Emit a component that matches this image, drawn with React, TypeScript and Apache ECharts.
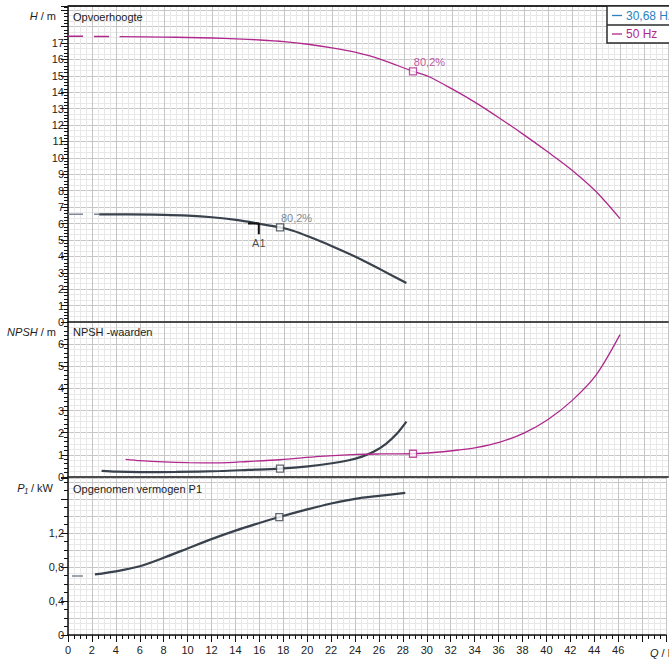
import React, { useEffect, useRef } from "react";
import * as echarts from "echarts";

// Flow axis (l/s)
const FLOW_MAX = 50;
const FLOW_STEP = 2;

// Head H (m) — 30,68 Hz and 50 Hz
const headLowExtrap: [number, number][] = [[0, 6.56], [2.6, 6.56]];
const headLow: [number, number][] = [
  [2.6, 6.56], [5, 6.56], [8, 6.53], [10, 6.48], [12, 6.38], [14, 6.22],
  [16, 5.98], [17.67, 5.76], [18.75, 5.56], [20, 5.22], [22, 4.62],
  [24, 3.96], [26, 3.22], [28.2, 2.37],
];
const headHighExtrap: [number, number][] = [[0, 17.41], [4.3, 17.38]];
const headHigh: [number, number][] = [
  [4.3, 17.38], [8, 17.36], [10, 17.33], [12, 17.3], [14, 17.25], [16, 17.18],
  [18, 17.08], [20, 16.92], [22, 16.7], [24, 16.42], [26, 16.02], [28.75, 15.27],
  [30, 14.97], [32, 14.2], [34, 13.35], [36, 12.4], [38, 11.4], [40, 10.35],
  [42, 9.25], [44, 7.95], [46, 6.3],
];

// NPSH (m)
const npshLow: [number, number][] = [
  [2.8, 0.28], [4, 0.24], [6, 0.22], [9, 0.23], [12.7, 0.27], [15, 0.32],
  [17.67, 0.38], [20, 0.48], [22, 0.62], [23.5, 0.77], [24.5, 0.92],
  [25.5, 1.15], [26.5, 1.5], [27.4, 1.95], [28.2, 2.5],
];
const npshHigh: [number, number][] = [
  [4.8, 0.8], [6, 0.74], [8, 0.68], [10, 0.65], [12.7, 0.64], [15, 0.7],
  [17.67, 0.78], [21, 0.93], [24.1, 1.02], [26, 1.04], [28.75, 1.05],
  [31, 1.13], [32.5, 1.22], [34, 1.33], [36, 1.58], [38, 1.98], [40, 2.6],
  [42, 3.45], [44, 4.6], [46, 6.43],
];

// Power input P1 (kW)
const powerLowExtrap: [number, number][] = [[0.33, 0.694], [2.25, 0.694]];
const powerLow: [number, number][] = [
  [2.25, 0.714], [4, 0.75], [6, 0.81], [8, 0.91], [10, 1.02], [12, 1.13],
  [14, 1.23], [16, 1.32], [17.67, 1.39], [20, 1.48], [22, 1.55],
  [24, 1.605], [26, 1.64], [28.2, 1.674],
];

// Best-efficiency points and duty point
const bepLow: [number, number] = [17.67, 5.76];
const bepHigh: [number, number] = [28.75, 15.27];
const bepNpshLow: [number, number] = [17.67, 0.38];
const bepNpshHigh: [number, number] = [28.75, 1.05];
const bepPowerLow: [number, number] = [17.67, 1.39];
const bepLabel = "80,2%";
const dutyHook: [number, number][] = [[15.0, 6.0], [15.9, 6.0], [15.9, 5.34]];
const dutyName = "A1";

const legendItems = ["30,68 Hz", "50 Hz"];

const FONT = "'Liberation Sans', Arial, sans-serif";
const TEXT = "#1c1c1c";
const LOW = "#39424c";
const LOW_EXT = "#7d8894";
const HIGH = "#b0288c";
const BLUE = "#2a82c0";
const GRID_MID = "#c6c6c6";
const GRID_LIGHT = "#e8e8e8";

const W = 669;
const H = 659;
const LEFT = 68;

const grids = [
  { left: LEFT, top: 6, width: 600, height: 316 },
  { left: LEFT, top: 322, width: 600, height: 155 },
  { left: LEFT, top: 478, width: 600, height: 157 },
];

function xAxisFor(gi: number, showLabels: boolean) {
  return {
    type: "value",
    gridIndex: gi,
    min: 0,
    max: FLOW_MAX,
    interval: FLOW_STEP,
    position: "bottom",
    axisLine: {
      show: true,
      onZero: false,
      lineStyle: showLabels ? { color: "#111", width: 1.5 } : { color: "#4a4a4a", width: 2 },
    },
    axisTick: { show: showLabels, length: 7, lineStyle: { color: "#111" } },
    minorTick: { show: showLabels, splitNumber: 4, length: 4, lineStyle: { color: "#111" } },
    axisLabel: {
      show: showLabels,
      margin: 9,
      color: TEXT,
      fontSize: 11,
      fontFamily: FONT,
      formatter: (v: number) => (v >= 48 ? "" : String(v)),
    },
    splitLine: { show: true, lineStyle: { color: GRID_MID, width: 1 } },
    minorSplitLine: { show: true, lineStyle: { color: GRID_LIGHT, width: 1 } },
  };
}

// Visible left axis: line, ticks and labels
function yAxisMain(gi: number, max: number, interval: number, minor: number, fmt: (v: number) => string) {
  return {
    type: "value",
    gridIndex: gi,
    min: 0,
    max,
    interval,
    position: "left",
    z: 3,
    axisLine: { show: true, onZero: false, lineStyle: { color: "#111", width: 1.5 } },
    axisTick: { show: true, length: 7, lineStyle: { color: "#111" } },
    minorTick: { show: true, splitNumber: minor, length: 4, lineStyle: { color: "#111" } },
    axisLabel: { margin: 4, color: TEXT, fontSize: 11, fontFamily: FONT, formatter: fmt },
    splitLine: { show: false },
    minorSplitLine: { show: false },
  };
}

// Background grid lines for a panel
function yAxisGrid(gi: number, max: number, interval: number, minor: number) {
  return {
    type: "value",
    gridIndex: gi,
    min: 0,
    max,
    interval,
    position: "left",
    z: 0,
    axisLine: { show: false },
    axisTick: { show: false },
    minorTick: { show: false, splitNumber: minor },
    axisLabel: { show: false },
    splitLine: { show: true, lineStyle: { color: GRID_MID, width: 1 } },
    minorSplitLine: { show: true, lineStyle: { color: GRID_LIGHT, width: 1 } },
  };
}

function curve(data: [number, number][], xi: number, yi: number, color: string, width: number, dash?: number[]) {
  return {
    type: "line",
    xAxisIndex: xi,
    yAxisIndex: yi,
    data,
    smooth: dash ? false : 0.3,
    showSymbol: false,
    symbol: "none",
    silent: true,
    z: 3,
    lineStyle: { color, width, type: dash ? dash : "solid" },
  };
}

function marker(point: [number, number], xi: number, yi: number, color: string, label?: string, labelColor?: string) {
  return {
    type: "scatter",
    xAxisIndex: xi,
    yAxisIndex: yi,
    data: [point],
    symbol: "rect",
    symbolSize: 7,
    silent: true,
    z: 5,
    itemStyle: { color: "#fff", borderColor: color, borderWidth: 1.3 },
    label: label
      ? {
          show: true,
          formatter: label,
          position: [5, -5],
          align: "left",
          verticalAlign: "middle",
          color: labelColor || color,
          fontSize: 11,
          fontFamily: FONT,
        }
      : { show: false },
  };
}

const decimalComma = (v: number) => (v === 0 ? "0" : v.toFixed(1).replace(".", ","));

const italicRich = { i: { fontStyle: "italic", font: `italic 11px ${FONT}`, fill: TEXT } };

export default function App() {
  const ref = useRef<HTMLDivElement>(null);

  useEffect(() => {
    document.body.style.margin = "0";
    if (!ref.current) return;
    const chart = echarts.init(ref.current, null, { renderer: "svg" });

    const option = {
      animation: false,
      backgroundColor: "#ffffff",
      textStyle: { fontFamily: FONT },
      grid: grids.map((g) => ({ ...g, containLabel: false })),
      xAxis: [xAxisFor(0, false), xAxisFor(1, false), xAxisFor(2, true)],
      yAxis: [
        yAxisMain(0, 19.25, 1, 5, (v: number) => (v > 17.5 ? "" : String(v))),
        yAxisGrid(0, 19.25, 1, 3),
        yAxisMain(1, 7, 1, 5, (v: number) => (v > 6.5 ? "" : String(v))),
        yAxisGrid(1, 7, 1, 4),
        yAxisMain(2, 1.85, 0.4, 4, (v: number) => (v > 1.3 ? "" : decimalComma(v))),
        yAxisGrid(2, 1.85, 0.2, 3),
      ],
      series: [
        // head
        curve(headLowExtrap, 0, 0, LOW_EXT, 1.5, [15, 11]),
        curve(headLow, 0, 0, LOW, 2.2),
        curve(headHighExtrap, 0, 0, HIGH, 1.5, [15, 11]),
        curve(headHigh, 0, 0, HIGH, 1.3),
        {
          type: "line",
          xAxisIndex: 0,
          yAxisIndex: 0,
          data: dutyHook,
          showSymbol: false,
          symbol: "none",
          silent: true,
          z: 4,
          lineStyle: { color: "#111", width: 2 },
        },
        {
          type: "scatter",
          xAxisIndex: 0,
          yAxisIndex: 0,
          data: [dutyHook[dutyHook.length - 1]],
          symbolSize: 0,
          silent: true,
          z: 4,
          label: {
            show: true,
            formatter: dutyName,
            position: "bottom",
            distance: 3,
            color: TEXT,
            fontSize: 11,
            fontFamily: FONT,
          },
        },
        marker(bepLow, 0, 0, LOW, bepLabel, "#5f6a75"),
        marker(bepHigh, 0, 0, HIGH, bepLabel, HIGH),
        // NPSH
        curve(npshLow, 1, 2, LOW, 2.2),
        curve(npshHigh, 1, 2, HIGH, 1.3),
        marker(bepNpshLow, 1, 2, LOW),
        marker(bepNpshHigh, 1, 2, HIGH),
        // power
        curve(powerLowExtrap, 2, 4, LOW_EXT, 1.5, [11, 12]),
        curve(powerLow, 2, 4, LOW, 2.2),
        marker(bepPowerLow, 2, 4, LOW),
      ],
      graphic: [
        {
          type: "line",
          z: 10,
          shape: { x1: LEFT, y1: 6, x2: W, y2: 6 },
          style: { stroke: "#2b2b2b", lineWidth: 2 },
        },
        // panel titles
        {
          type: "text",
          x: 73,
          y: 17,
          z: 10,
          style: { text: "Opvoerhoogte", font: `11px ${FONT}`, fill: TEXT, verticalAlign: "middle" },
        },
        {
          type: "text",
          x: 73,
          y: 332,
          z: 10,
          style: { text: "NPSH -waarden", font: `11px ${FONT}`, fill: TEXT, verticalAlign: "middle" },
        },
        {
          type: "text",
          x: 73,
          y: 489,
          z: 10,
          style: { text: "Opgenomen vermogen P1", font: `11px ${FONT}`, fill: TEXT, verticalAlign: "middle" },
        },
        // axis names
        {
          type: "text",
          x: 56,
          y: 16,
          z: 10,
          style: {
            text: "{i|H} / m",
            font: `11px ${FONT}`,
            fill: TEXT,
            align: "right",
            verticalAlign: "middle",
            rich: italicRich,
          },
        },
        {
          type: "text",
          x: 56,
          y: 332,
          z: 10,
          style: {
            text: "{i|NPSH} / m",
            font: `11px ${FONT}`,
            fill: TEXT,
            align: "right",
            verticalAlign: "middle",
            rich: italicRich,
          },
        },
        {
          type: "text",
          x: 53,
          y: 488,
          z: 10,
          style: {
            text: "{i|P₁} / kW",
            font: `11px ${FONT}`,
            fill: TEXT,
            align: "right",
            verticalAlign: "middle",
            rich: italicRich,
          },
        },
        {
          type: "text",
          x: 650,
          y: 653,
          z: 10,
          style: {
            text: "{i|Q} / l/s",
            font: `11px ${FONT}`,
            fill: TEXT,
            verticalAlign: "middle",
            rich: italicRich,
          },
        },
        // legend box
        {
          type: "rect",
          z: 11,
          shape: { x: 607, y: 6, width: 80, height: 37 },
          style: { fill: "#ffffff", stroke: "#2b2b2b", lineWidth: 1.5 },
        },
        {
          type: "line",
          z: 12,
          shape: { x1: 607, y1: 25, x2: W, y2: 25 },
          style: { stroke: "#2b2b2b", lineWidth: 1.5 },
        },
        {
          type: "line",
          z: 12,
          shape: { x1: 612, y1: 15.5, x2: 622, y2: 15.5 },
          style: { stroke: BLUE, lineWidth: 1.3 },
        },
        {
          type: "text",
          x: 626,
          y: 15.5,
          z: 12,
          style: { text: legendItems[0], font: `12px ${FONT}`, fill: BLUE, verticalAlign: "middle" },
        },
        {
          type: "line",
          z: 12,
          shape: { x1: 612, y1: 34, x2: 622, y2: 34 },
          style: { stroke: HIGH, lineWidth: 1.3 },
        },
        {
          type: "text",
          x: 626,
          y: 34,
          z: 12,
          style: { text: legendItems[1], font: `12px ${FONT}`, fill: HIGH, verticalAlign: "middle" },
        },
      ],
    };

    chart.setOption(option as any);
    return () => chart.dispose();
  }, []);

  return (
    <div
      ref={ref}
      style={{ position: "absolute", left: 0, top: 0, width: W, height: H, background: "#fff" }}
    />
  );
}
